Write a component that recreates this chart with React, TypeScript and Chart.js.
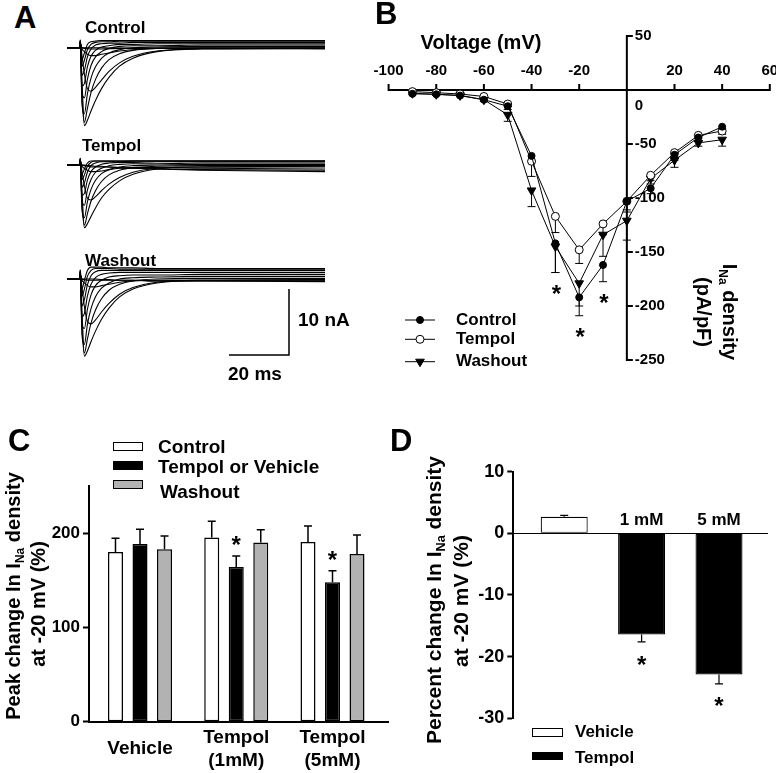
import React, { useEffect, useRef } from 'react';
import { Chart, registerables } from 'chart.js';

Chart.register(...registerables);

const FONT = '"Liberation Sans", Arial, Helvetica, sans-serif';
const bold = (size: number) => ({ family: FONT, size, weight: 'bold' as const });

// ================= Panel A : Na+ current traces (nA) =================
const traceTimesMs = [0, 4.25, 4.4, 5.0, 5.8, 6.8, 8.0, 9.5, 11.5, 14, 17.5, 22, 30, 45, 86];

const controlTraces = [
  [0, 0, 0.8, -5.0, -11.8, -11.0, -9.6, -8.0, -6.2, -4.5, -2.8, -1.6, -0.6, -0.2, -0.1],
  [0, 0, 0.8, -7.5, -11.3, -9.2, -6.8, -4.8, -3.1, -1.8, -0.9, -0.4, -0.1, 0, 0],
  [0, 0, 0.9, -8.5, -10.0, -7.0, -4.6, -2.9, -1.6, -0.8, -0.3, 0, 0.1, 0.2, 0.2],
  [0, 0, 0.9, -7.0, -7.6, -4.8, -2.7, -1.4, -0.6, -0.1, 0.2, 0.3, 0.3, 0.4, 0.4],
  [0, 0, 1.0, -5.8, -5.4, -2.9, -1.3, -0.4, 0.1, 0.3, 0.5, 0.5, 0.6, 0.6, 0.6],
  [0, 0, 1.0, -4.2, -3.4, -1.4, -0.2, 0.4, 0.6, 0.7, 0.7, 0.8, 0.8, 0.8, 0.8],
  [0, 0, 1.1, -2.8, -1.9, -0.3, 0.5, 0.8, 0.9, 0.9, 1.0, 1.0, 1.0, 1.0, 1.0],
  [0, 0, 1.2, -1.8, -0.8, 0.5, 0.9, 1.0, 1.1, 1.1, 1.1, 1.1, 1.1, 1.1, 1.1],
  [0, 0, 0.8, -1.2, -4.0, -6.2, -6.6, -6.0, -4.9, -3.6, -2.3, -1.3, -0.5, -0.15, -0.1],
  [0, 0, 0.7, -0.2, -0.6, -1.0, -1.2, -1.2, -1.0, -0.8, -0.5, -0.3, -0.1, -0.05, -0.05],
  [0, 0, 0.7, 0, -0.1, -0.15, -0.2, -0.2, -0.2, -0.15, -0.1, -0.1, -0.1, -0.1, -0.1],
  [0, 0, 0.6, 0, 0, 0, 0, 0, 0, -0.05, -0.05, -0.05, -0.1, -0.1, -0.2],
];

const tempolTraces = [
  [0, 0, 0.7, -4.0, -9.5, -8.9, -7.8, -6.5, -5.0, -3.7, -2.4, -1.4, -0.6, -0.3, -0.2],
  [0, 0, 0.7, -6.0, -9.1, -7.4, -5.5, -3.9, -2.5, -1.5, -0.8, -0.4, -0.2, -0.1, -0.1],
  [0, 0, 0.8, -6.8, -8.0, -5.6, -3.7, -2.3, -1.3, -0.7, -0.3, -0.1, 0, 0.1, 0.1],
  [0, 0, 0.8, -5.6, -6.1, -3.8, -2.2, -1.1, -0.5, -0.1, 0.1, 0.2, 0.2, 0.3, 0.3],
  [0, 0, 0.9, -4.6, -4.3, -2.3, -1.0, -0.3, 0.1, 0.3, 0.4, 0.4, 0.5, 0.5, 0.5],
  [0, 0, 0.9, -3.4, -2.7, -1.1, -0.1, 0.3, 0.5, 0.5, 0.5, 0.6, 0.6, 0.6, 0.6],
  [0, 0, 1.0, -2.2, -1.5, -0.2, 0.4, 0.6, 0.6, 0.6, 0.6, 0.6, 0.6, 0.6, 0.6],
  [0, 0, 1.0, -1.4, -0.6, 0.3, 0.6, 0.6, 0.6, 0.6, 0.6, 0.6, 0.6, 0.6, 0.6],
  [0, 0, 0.7, -1.0, -3.2, -5.0, -5.3, -4.8, -3.9, -2.9, -1.9, -1.1, -0.5, -0.3, -0.3],
  [0, 0, 0.6, -0.2, -0.5, -0.8, -1.0, -1.0, -0.9, -0.7, -0.5, -0.4, -0.4, -0.5, -0.6],
  [0, 0, 0.6, 0, -0.1, -0.2, -0.3, -0.3, -0.3, -0.3, -0.4, -0.5, -0.6, -0.7, -0.8],
  [0, 0, 0.5, 0, 0, -0.1, -0.1, -0.2, -0.2, -0.3, -0.4, -0.5, -0.6, -0.8, -1.0],
];

const washoutTraces = [
  [0, 0, 0.8, -5.0, -11.7, -10.9, -9.5, -7.9, -6.1, -4.4, -2.7, -1.5, -0.6, -0.2, -0.1],
  [0, 0, 0.8, -7.4, -11.2, -9.1, -6.7, -4.7, -3.0, -1.7, -0.8, -0.3, 0, 0.1, 0.1],
  [0, 0, 0.9, -8.4, -9.9, -6.9, -4.5, -2.7, -1.4, -0.6, 0, 0.2, 0.3, 0.4, 0.4],
  [0, 0, 1.0, -7.0, -7.5, -4.6, -2.4, -1.0, -0.2, 0.3, 0.5, 0.6, 0.6, 0.7, 0.7],
  [0, 0, 1.1, -5.7, -5.2, -2.6, -0.8, 0.2, 0.7, 0.9, 1.0, 1.0, 1.0, 1.0, 1.0],
  [0, 0, 1.2, -4.1, -3.1, -0.9, 0.5, 1.1, 1.3, 1.3, 1.3, 1.3, 1.3, 1.3, 1.3],
  [0, 0, 1.3, -2.6, -1.5, 0.4, 1.3, 1.6, 1.6, 1.6, 1.5, 1.5, 1.5, 1.5, 1.5],
  [0, 0, 1.4, -1.5, -0.2, 1.3, 1.8, 1.8, 1.8, 1.7, 1.7, 1.7, 1.6, 1.6, 1.6],
  [0, 0, 0.8, -1.3, -4.2, -6.4, -6.8, -6.2, -5.0, -3.7, -2.3, -1.3, -0.5, -0.2, -0.1],
  [0, 0, 0.7, -0.2, -0.6, -1.0, -1.2, -1.2, -1.0, -0.8, -0.5, -0.3, -0.2, -0.2, -0.2],
  [0, 0, 0.6, 0, -0.1, -0.2, -0.2, -0.2, -0.2, -0.2, -0.2, -0.2, -0.3, -0.3, -0.3],
  [0, 0, 0.6, 0, 0, 0, 0, 0, -0.1, -0.1, -0.2, -0.2, -0.3, -0.3, -0.4],
];

// scale bar: 20 ms x 10 nA
const scaleBarMs = [54, 74, 74];
const scaleBarNa = [-11.5, -11.5, -1.5];

// ================= Panel B : I-V relation =================
const ivVoltages = [-90, -80, -70, -60, -50, -40, -30, -20, -10, 0, 10, 20, 30, 40];
const ivControl = [-3.5, -4, -5.2, -9, -15, -61, -142, -192, -162, -103, -91, -60, -44, -34];
const ivControlErr = [1, 1, 1, 1.5, 3, 5, 27, 17, 15.5, 10, 5, 5, 3, 2];
const ivTempol = [-1.5, -2.5, -3.7, -6, -13, -66, -117, -148, -124, -103, -79, -58, -42, -38];
const ivTempolErr = [1, 1, 1, 1, 2, 14, 15, 12.6, 10, 8, 5, 4, 3, 3];
const ivWashout = [-3, -4, -5, -9, -23, -93, -145, -179, -134, -121, -82, -65, -49, -46];
const ivWashoutErr = [1, 1, 1, 1.5, 6, 15, 24, 21, 20, 18, 5, 6.6, 3, 6];
const ivXTicks = [-100, -80, -60, -40, -20, 0, 20, 40, 60];
const ivYTicks = [50, 0, -50, -100, -150, -200, -250];
const ivStarVoltages = [-30, -20, -10];
const ivNames = ['Control', 'Tempol', 'Washout'];

// ================= Panel C : peak change =================
const cGroups: (string | string[])[] = ['Vehicle', ['Tempol', '(1mM)'], ['Tempol', '(5mM)']];
const cControl = [180, 195.5, 190.5];
const cControlErr = [14.5, 17, 17];
const cTreated = [188.4, 164, 147.8];
const cTreatedErr = [15.6, 11.7, 12.2];
const cWashout = [183, 190, 178];
const cWashoutErr = [14, 13.6, 20];
const cStars = [false, true, true];
const cYTicks = [0, 100, 200];
const cLegend = ['Control', 'Tempol or Vehicle', 'Washout'];

// ================= Panel D : percent change =================
const dGroups = ['Vehicle', '1 mM', '5 mM'];
const dVehicle = [2.7, null, null];
const dVehicleErr = [0.2, 0, 0];
const dTempol = [null, -16.4, -22.9];
const dTempolErr = [0, 1.2, 1.5];
const dStars = [false, true, true];
const dYTicks = [-30, -20, -10, 0, 10];

// ---------------- layout (page pixels) ----------------
const A_X0 = 67;
const A_PX_MS = 3;
const A_PX_NA = 6.6;
const A_PANELS = [
  { box: { l: 60, t: 30, w: 280, h: 110 }, base: 47.7, traces: controlTraces },
  { box: { l: 60, t: 150, w: 280, h: 90 }, base: 165, traces: tempolTraces },
  { box: { l: 60, t: 255, w: 280, h: 130 }, base: 279, traces: washoutTraces },
];
const B_BOX = { l: 370, t: 0, w: 406, h: 400 };
const B_AREA = { left: 388.6, right: 769.8, top: 36, bottom: 360 };
const C_BOX = { l: 0, t: 420, w: 390, h: 353 };
const C_AREA = { left: 89, right: 388, top: 486, bottom: 721.7 };
const D_BOX = { l: 390, t: 420, w: 386, h: 353 };
const D_AREA = { left: 513.3, right: 768, top: 471.7, bottom: 718.3 };

const baseOptions = () => ({
  responsive: false,
  maintainAspectRatio: false,
  animation: false as const,
  devicePixelRatio: 1,
  events: [] as any[],
  plugins: { legend: { display: false }, tooltip: { enabled: false }, title: { display: false } },
});

function drawErrorBar(ctx: CanvasRenderingContext2D, x: number, y1: number, y2: number, cap: number, lw: number) {
  ctx.save();
  ctx.strokeStyle = '#000';
  ctx.lineWidth = lw;
  ctx.beginPath();
  ctx.moveTo(x, y1);
  ctx.lineTo(x, y2);
  ctx.moveTo(x - cap / 2, y2);
  ctx.lineTo(x + cap / 2, y2);
  ctx.stroke();
  ctx.restore();
}

function drawStar(ctx: CanvasRenderingContext2D, x: number, cy: number, size: number) {
  ctx.save();
  ctx.fillStyle = '#000';
  ctx.font = `bold ${size}px ${FONT}`;
  ctx.textAlign = 'center';
  ctx.textBaseline = 'alphabetic';
  ctx.fillText('*', x, cy + 0.57 * size);
  ctx.restore();
}

function drawMarker(ctx: CanvasRenderingContext2D, kind: string, x: number, y: number) {
  ctx.save();
  ctx.lineWidth = 1;
  ctx.strokeStyle = '#000';
  ctx.beginPath();
  if (kind === 'tri') {
    ctx.moveTo(x, y + 5);
    ctx.lineTo(x - 4.33, y - 2.5);
    ctx.lineTo(x + 4.33, y - 2.5);
    ctx.closePath();
    ctx.fillStyle = '#000';
  } else {
    ctx.arc(x, y, kind === 'open' ? 4 : 3.5, 0, Math.PI * 2);
    ctx.fillStyle = kind === 'open' ? '#fff' : '#000';
  }
  ctx.fill();
  ctx.stroke();
  ctx.restore();
}

// ---------------- Panel A config ----------------
function traceConfig(idx: number) {
  const { box, base, traces } = A_PANELS[idx];
  const xMin = (box.l - A_X0) / A_PX_MS;
  const xMax = (box.l + box.w - A_X0) / A_PX_MS;
  const yMax = (base - box.t) / A_PX_NA;
  const yMin = -(box.t + box.h - base) / A_PX_NA;
  const datasets: any[] = traces.map((tr) => ({
    data: traceTimesMs.map((t, i) => ({ x: t, y: tr[i] })),
    borderColor: '#000',
    borderWidth: 1.1,
    pointRadius: 0,
    cubicInterpolationMode: 'monotone',
    fill: false,
  }));
  if (idx === 2) {
    datasets.push({
      data: scaleBarMs.map((t, i) => ({ x: t, y: scaleBarNa[i] })),
      borderColor: '#000',
      borderWidth: 1.5,
      pointRadius: 0,
      tension: 0,
      fill: false,
    });
  }
  return {
    type: 'line',
    data: { datasets },
    options: {
      ...baseOptions(),
      layout: { padding: 0 },
      scales: {
        x: { type: 'linear', min: xMin, max: xMax, display: false },
        y: { type: 'linear', min: yMin, max: yMax, display: false },
      },
    },
  };
}

// ---------------- Panel B config ----------------
const ivSeries = [
  { name: ivNames[0], values: ivControl, err: ivControlErr, kind: 'filled' },
  { name: ivNames[1], values: ivTempol, err: ivTempolErr, kind: 'open' },
  { name: ivNames[2], values: ivWashout, err: ivWashoutErr, kind: 'tri' },
];

const ivPlugin = {
  id: 'ivPlugin',
  beforeDatasetsDraw(chart: any) {
    const ctx: CanvasRenderingContext2D = chart.ctx;
    const xs = chart.scales.x;
    const ys = chart.scales.y;
    const y0 = ys.getPixelForValue(0);
    const x0 = xs.getPixelForValue(0);
    ivSeries.forEach((s) =>
      s.values.forEach((v, i) => {
        const px = xs.getPixelForValue(ivVoltages[i]);
        drawErrorBar(ctx, px, ys.getPixelForValue(v), ys.getPixelForValue(v - s.err[i]), 8, 1);
      })
    );
    ctx.save();
    ctx.strokeStyle = '#000';
    ctx.lineWidth = 2;
    ctx.beginPath();
    ctx.moveTo(xs.getPixelForValue(ivXTicks[0]) - 1, y0);
    ctx.lineTo(xs.getPixelForValue(ivXTicks[ivXTicks.length - 1]) + 1, y0);
    ctx.moveTo(x0, ys.getPixelForValue(ivYTicks[0]) - 1);
    ctx.lineTo(x0, ys.getPixelForValue(ivYTicks[ivYTicks.length - 1]) + 1);
    ivXTicks.forEach((v) => {
      const px = xs.getPixelForValue(v);
      ctx.moveTo(px, y0);
      ctx.lineTo(px, y0 - 6);
    });
    ivYTicks.forEach((v) => {
      const py = ys.getPixelForValue(v);
      ctx.moveTo(x0, py);
      ctx.lineTo(x0 + 6, py);
    });
    ctx.stroke();
    ctx.fillStyle = '#000';
    ctx.font = `bold 15px ${FONT}`;
    ctx.textAlign = 'center';
    ctx.textBaseline = 'middle';
    ivXTicks.forEach((v) => {
      if (v !== 0) ctx.fillText(String(v), xs.getPixelForValue(v), y0 - 19);
    });
    ctx.textAlign = 'left';
    ivYTicks.forEach((v) => {
      const py = v === 0 ? y0 + 16 : ys.getPixelForValue(v);
      ctx.fillText(String(v), x0 + 8, py);
    });
    ctx.font = `bold 20px ${FONT}`;
    ctx.textAlign = 'center';
    ctx.fillText('Voltage (mV)', 481 - B_BOX.l, 43 - B_BOX.t);
    ctx.restore();
  },
  afterDatasetsDraw(chart: any) {
    const ctx: CanvasRenderingContext2D = chart.ctx;
    const xs = chart.scales.x;
    const ys = chart.scales.y;
    ivStarVoltages.forEach((v) => {
      const i = ivVoltages.indexOf(v);
      let lowest = 0;
      ivSeries.forEach((s) => {
        lowest = Math.max(lowest, ys.getPixelForValue(s.values[i] - s.err[i]));
      });
      drawStar(ctx, xs.getPixelForValue(v) + 1, lowest + 16, 24);
    });
    // legend
    const rows = [320, 339.3, 361.7];
    ctx.save();
    ctx.font = `bold 17px ${FONT}`;
    ctx.fillStyle = '#000';
    ctx.textAlign = 'left';
    ctx.textBaseline = 'middle';
    ivSeries.forEach((s, k) => {
      const y = rows[k] - B_BOX.t;
      ctx.strokeStyle = '#000';
      ctx.lineWidth = 1;
      ctx.beginPath();
      ctx.moveTo(405 - B_BOX.l, y);
      ctx.lineTo(435 - B_BOX.l, y);
      ctx.stroke();
      drawMarker(ctx, s.kind, 420 - B_BOX.l, y);
      ctx.fillStyle = '#000';
      ctx.fillText(s.name, 456 - B_BOX.l, y);
    });
    ctx.restore();
  },
};

function ivConfig() {
  return {
    type: 'line',
    data: {
      datasets: ivSeries.map((s) => ({
        data: ivVoltages.map((v, i) => ({ x: v, y: s.values[i] })),
        borderColor: '#000',
        borderWidth: 1,
        tension: 0,
        fill: false,
        pointStyle: s.kind === 'tri' ? 'triangle' : 'circle',
        pointRotation: s.kind === 'tri' ? 180 : 0,
        pointRadius: s.kind === 'tri' ? 5 : s.kind === 'open' ? 4 : 3.5,
        pointBackgroundColor: s.kind === 'open' ? '#fff' : '#000',
        pointBorderColor: '#000',
        pointBorderWidth: 1,
      })),
    },
    options: {
      ...baseOptions(),
      layout: {
        padding: {
          left: B_AREA.left - B_BOX.l,
          right: B_BOX.l + B_BOX.w - B_AREA.right,
          top: B_AREA.top - B_BOX.t,
          bottom: B_BOX.t + B_BOX.h - B_AREA.bottom,
        },
      },
      scales: {
        x: { type: 'linear', min: ivXTicks[0], max: ivXTicks[ivXTicks.length - 1], display: false },
        y: { type: 'linear', min: ivYTicks[ivYTicks.length - 1], max: ivYTicks[0], display: false },
      },
    },
    plugins: [ivPlugin],
  };
}

// ---------------- Panel C config ----------------
const cSeries = [
  { name: cLegend[0], values: cControl, err: cControlErr, color: '#ffffff' },
  { name: cLegend[1], values: cTreated, err: cTreatedErr, color: '#000000' },
  { name: cLegend[2], values: cWashout, err: cWashoutErr, color: '#b2b2b2' },
];

const cPlugin = {
  id: 'cPlugin',
  afterDatasetsDraw(chart: any) {
    const ctx: CanvasRenderingContext2D = chart.ctx;
    const ys = chart.scales.y;
    cSeries.forEach((s, di) => {
      const meta = chart.getDatasetMeta(di);
      s.values.forEach((v, i) => {
        const el = meta.data[i];
        const top = ys.getPixelForValue(v + s.err[i]);
        drawErrorBar(ctx, el.x, el.y, top, 8, 1.5);
        if (di === 1 && cStars[i]) drawStar(ctx, el.x, top - 17, 24);
      });
    });
  },
};

function cConfig() {
  const pxPerUnit = 96.25;
  const xMin = -(140 - C_AREA.left) / pxPerUnit;
  const xMax = xMin + (C_AREA.right - C_AREA.left) / pxPerUnit;
  return {
    type: 'bar',
    data: {
      datasets: cSeries.map((s) => ({
        label: s.name,
        data: s.values.map((v, i) => ({ x: i, y: v })),
        backgroundColor: s.color,
        borderColor: '#000',
        borderWidth: 1.5,
        borderSkipped: false,
        categoryPercentage: 0.764,
        barPercentage: 0.612,
      })),
    },
    options: {
      ...baseOptions(),
      layout: {
        padding: { left: 0, right: C_BOX.l + C_BOX.w - C_AREA.right, top: C_AREA.top - C_BOX.t, bottom: 0 },
      },
      scales: {
        x: {
          type: 'linear',
          min: xMin,
          max: xMax,
          offset: false,
          afterBuildTicks: (s: any) => {
            s.ticks = cGroups.map((_, i) => ({ value: i }));
          },
          afterFit: (s: any) => {
            s.height = C_BOX.t + C_BOX.h - C_AREA.bottom;
          },
          grid: { display: false, drawTicks: false, offset: false },
          border: { display: true, color: '#000', width: 2 },
          ticks: {
            callback: (_v: any, i: number) => cGroups[i],
            font: bold(19),
            color: '#000',
            padding: 16,
            crossAlign: 'center',
            maxRotation: 0,
            autoSkip: false,
          },
        },
        y: {
          type: 'linear',
          min: 0,
          max: 250,
          afterBuildTicks: (s: any) => {
            s.ticks = cYTicks.map((v) => ({ value: v }));
          },
          afterFit: (s: any) => {
            s.width = C_AREA.left - C_BOX.l;
          },
          grid: { display: true, drawOnChartArea: false, drawTicks: true, tickLength: 6, tickWidth: 2, tickColor: '#000', color: '#000' },
          border: { display: true, color: '#000', width: 2 },
          ticks: { font: bold(17), color: '#000', padding: 3 },
        },
      },
    },
    plugins: [cPlugin],
  };
}

// ---------------- Panel D config ----------------
const dSeries = [
  { name: 'Vehicle', values: dVehicle, err: dVehicleErr, color: '#ffffff' },
  { name: 'Tempol', values: dTempol, err: dTempolErr, color: '#000000' },
];

const dPlugin = {
  id: 'dPlugin',
  afterDatasetsDraw(chart: any) {
    const ctx: CanvasRenderingContext2D = chart.ctx;
    const ys = chart.scales.y;
    const y0 = ys.getPixelForValue(0);
    dSeries.forEach((s, di) => {
      const meta = chart.getDatasetMeta(di);
      s.values.forEach((v, i) => {
        if (v === null) return;
        const el = meta.data[i];
        const sign = v >= 0 ? 1 : -1;
        const end = ys.getPixelForValue(v + sign * s.err[i]);
        drawErrorBar(ctx, el.x, el.y, end, 8, 1.2);
        if (dStars[i]) drawStar(ctx, el.x, end + 17, 24);
        if (di === 1) {
          ctx.save();
          ctx.fillStyle = '#000';
          ctx.font = `bold 17px ${FONT}`;
          ctx.textAlign = 'center';
          ctx.textBaseline = 'middle';
          ctx.fillText(dGroups[i], el.x, y0 - 13);
          ctx.restore();
        }
      });
    });
  },
};

function dConfig() {
  const pxPerUnit = 77.4;
  const xMin = -(564.2 - D_AREA.left) / pxPerUnit;
  const xMax = xMin + (D_AREA.right - D_AREA.left) / pxPerUnit;
  return {
    type: 'bar',
    data: {
      datasets: dSeries.map((s) => ({
        label: s.name,
        data: s.values.map((v, i) => ({ x: i, y: v })),
        backgroundColor: s.color,
        borderColor: '#000',
        borderWidth: 1.2,
        borderSkipped: false,
        grouped: false,
        categoryPercentage: 1,
        barPercentage: 0.75,
        maxBarThickness: 47,
      })),
    },
    options: {
      ...baseOptions(),
      layout: {
        padding: {
          left: 0,
          right: D_BOX.l + D_BOX.w - D_AREA.right,
          top: D_AREA.top - D_BOX.t,
          bottom: D_BOX.t + D_BOX.h - D_AREA.bottom,
        },
      },
      scales: {
        x: {
          type: 'linear',
          min: xMin,
          max: xMax,
          offset: false,
          display: false,
          grid: { offset: false },
          afterBuildTicks: (s: any) => {
            s.ticks = dGroups.map((_, i) => ({ value: i }));
          },
        },
        y: {
          type: 'linear',
          min: -30,
          max: 10,
          afterBuildTicks: (s: any) => {
            s.ticks = dYTicks.map((v) => ({ value: v }));
          },
          afterFit: (s: any) => {
            s.width = D_AREA.left - D_BOX.l;
          },
          grid: {
            display: true,
            drawOnChartArea: true,
            drawTicks: true,
            tickLength: 6,
            tickWidth: 2,
            tickColor: '#000',
            lineWidth: 1,
            color: (c: any) => (c.tick && c.tick.value === 0 ? '#000' : 'rgba(0,0,0,0)'),
          },
          border: { display: true, color: '#000', width: 2 },
          ticks: { font: bold(18), color: '#000', padding: 3 },
        },
      },
    },
    plugins: [dPlugin],
  };
}

// ---------------- React components ----------------
function ChartBox({ box, make }: { box: { l: number; t: number; w: number; h: number }; make: () => any }) {
  const ref = useRef<HTMLCanvasElement>(null);
  useEffect(() => {
    const chart = new Chart(ref.current as HTMLCanvasElement, make());
    return () => chart.destroy();
  }, []);
  return (
    <canvas
      ref={ref}
      width={box.w}
      height={box.h}
      style={{ position: 'absolute', left: box.l, top: box.t, width: box.w, height: box.h }}
    />
  );
}

function Txt({ x, y, size, children, align = 'left', rotate = 0 }: any) {
  const transform = rotate
    ? `translate(-50%,-50%) rotate(${rotate}deg)`
    : `translate(${align === 'center' ? '-50%' : '0'},-50%)`;
  return (
    <div
      style={{
        position: 'absolute',
        left: x,
        top: y,
        transform,
        fontFamily: FONT,
        fontWeight: 'bold',
        fontSize: size,
        lineHeight: 1,
        whiteSpace: 'nowrap',
        color: '#000',
      }}
    >
      {children}
    </div>
  );
}

const Sub = ({ children }: any) => (
  <span style={{ fontSize: '0.6em', position: 'relative', top: '0.3em' }}>{children}</span>
);

function Box({ x, y, w, h, color }: any) {
  return (
    <div
      style={{
        position: 'absolute',
        left: x,
        top: y,
        width: w,
        height: h,
        background: color,
        border: '1.5px solid #000',
        boxSizing: 'border-box',
      }}
    />
  );
}

export default function App() {
  return (
    <div style={{ position: 'absolute', left: 0, top: 0, width: 776, height: 773, background: '#fff', overflow: 'hidden' }}>
      {/* Panel A */}
      {A_PANELS.map((p, i) => (
        <ChartBox key={i} box={p.box} make={() => traceConfig(i)} />
      ))}
      <Txt x={14} y={17} size={31}>A</Txt>
      <Txt x={85} y={26.5} size={17}>Control</Txt>
      <Txt x={82} y={145} size={17}>Tempol</Txt>
      <Txt x={85} y={260} size={17}>Washout</Txt>
      <Txt x={298} y={318.5} size={19}>10 nA</Txt>
      <Txt x={228} y={372.5} size={19}>20 ms</Txt>

      {/* Panel B */}
      <ChartBox box={B_BOX} make={ivConfig} />
      <Txt x={375} y={13} size={31}>B</Txt>
      <Txt x={730} y={312} size={20} rotate={90}>
        I<Sub>Na</Sub> density
      </Txt>
      <Txt x={704} y={312} size={20} rotate={90}>(pA/pF)</Txt>

      {/* Panel C */}
      <ChartBox box={C_BOX} make={cConfig} />
      <Txt x={8} y={440} size={31}>C</Txt>
      <Txt x={13} y={595.5} size={20} rotate={-90}>
        Peak change In I<Sub>Na</Sub> density
      </Txt>
      <Txt x={38} y={604} size={20} rotate={-90}>at -20 mV (%)</Txt>
      <Box x={113} y={442} w={30} h={9} color="#fff" />
      <Box x={113} y={461} w={30} h={9} color="#000" />
      <Box x={113} y={480} w={30} h={9} color="#b2b2b2" />
      <Txt x={158} y={446} size={19}>{cLegend[0]}</Txt>
      <Txt x={158} y={465.5} size={19}>{cLegend[1]}</Txt>
      <Txt x={160} y={491} size={19}>{cLegend[2]}</Txt>

      {/* Panel D */}
      <ChartBox box={D_BOX} make={dConfig} />
      <Txt x={390} y={440} size={31}>D</Txt>
      <Txt x={432.5} y={600} size={21} rotate={-90}>
        Percent change In I<Sub>Na</Sub> density
      </Txt>
      <Txt x={460} y={601} size={21} rotate={-90}>at -20 mV (%)</Txt>
      <Box x={532} y={728} w={31} h={9} color="#fff" />
      <Box x={532} y={752} w={31} h={8} color="#000" />
      <Txt x={575} y={731} size={17}>{dSeries[0].name}</Txt>
      <Txt x={575} y={757} size={17}>{dSeries[1].name}</Txt>
    </div>
  );
}
